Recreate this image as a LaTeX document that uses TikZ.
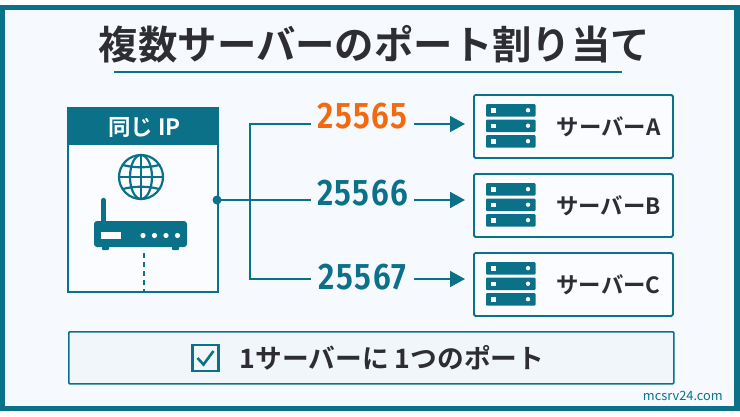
\documentclass[tikz,border=0pt]{standalone}
\usepackage{fontspec}
\usetikzlibrary{arrows.meta}
\setmainfont{Noto Sans CJK JP}[BoldFont={Noto Sans CJK JP Bold}]
\newfontfamily\jpbold{Noto Sans CJK JP Bold}[AutoFakeBold=1.6]
\newfontfamily\jpheavy{Noto Sans CJK JP Bold}[AutoFakeBold=2.6]
\newfontfamily\numfont{Fira Sans}[UprightFont=* SemiBold,FakeStretch=0.86,LetterSpace=4]
\definecolor{teal1}{HTML}{0B7189}
\definecolor{ink}{HTML}{2D2D33}
\definecolor{orng}{HTML}{F26A10}
\definecolor{bgc}{HTML}{F6F9FE}
\definecolor{boxc}{HTML}{FBFCFF}
\definecolor{notec}{HTML}{F1F6FB}
\tikzset{
  line/.style={draw=teal1,line width=1.9pt},
  servbox/.style={draw=teal1,line width=1.8pt,fill=boxc,rounded corners=1.5pt,minimum width=199pt,minimum height=63pt,inner sep=0pt},
  servlabel/.style={inner sep=0pt,text=ink,font=\jpbold\fontsize{22.4}{22.4}\selectfont},
  portnum/.style={inner sep=0pt,minimum width=103pt,minimum height=40pt,font=\numfont\fontsize{37}{37}\selectfont},
  arrowto/.style={line,shorten >=8pt,-{Triangle[length=15pt,width=16pt]}},
  rack/.style={fill=teal1,rounded corners=1pt},
}
\newcommand{\servericon}[1]{%
  \begin{scope}[shift={(486,#1)}]
    \foreach \yy in {0,15.5,31}{
      \fill[rack] (0,\yy) rectangle (49.5,\yy+12.5);
      \fill[white] (5,\yy+4) rectangle (10,\yy+8.5);
      \fill[white] (42,\yy+6.2) circle (2.2);
    }
  \end{scope}}
\begin{document}
\begin{tikzpicture}[x=1pt,y=-1pt]
\useasboundingbox (0,0) rectangle (740,416);
\fill[white] (0,0) rectangle (740,416);
\draw[draw=teal1,line width=5.5pt,fill=bgc] (2.5,7.7) rectangle (737,408.5);

% title
\node[inner sep=0pt,text=ink,font=\jpheavy\fontsize{39.4}{39.4}\selectfont] (title) at (374.5,44) {複数サーバーのポート割り当て};
\coordinate (ulL) at (114,72);
\coordinate (ulR) at (622,72);
\draw[line] (ulL) -- (ulR);

% left panel
\node[draw=teal1,line width=1.7pt,fill=boxc,minimum width=150pt,minimum height=184pt,inner sep=0pt,anchor=north west] (panel) at (67,107) {};
\fill[teal1] (panel.north west) rectangle (217,145);
\node[inner sep=0pt,text=white,font=\jpbold\fontsize{22.5}{22.5}\selectfont] (iplabel) at (144.5,127) {同じ IP};

% globe
\begin{scope}[shift={(141,177)},teal1,line width=2.2pt]
  \draw (0,0) circle (22);
  \draw (0,0) ellipse (11 and 22);
  \draw (0,-22) -- (0,22);
  \draw (-22,0) -- (22,0);
  \draw (-18,-12) .. controls (-8,-9) and (8,-9) .. (18,-12);
  \draw (-18,12) .. controls (-8,9) and (8,9) .. (18,12);
\end{scope}

% router
\fill[teal1,rounded corners=3pt] (94,221) rectangle (187,247);
\fill[teal1,rounded corners=1pt] (102,245) rectangle (109,250);
\fill[teal1,rounded corners=1pt] (172,245) rectangle (179,250);
\draw[teal1,line width=4.4pt,line cap=round] (103.5,222) -- (103.5,200);
\fill[white] (101,232) rectangle (121,239);
\foreach \xx in {143,154.5,166,177.5}{\fill[white] (\xx,235.5) circle (2.6);}
\coordinate (dashT) at (144,253);
\coordinate (dashB) at (144,291);
\draw[teal1,line width=2.1pt,dash pattern=on 5pt off 4pt] (dashT) -- (dashB);

% connectors and ports
\coordinate (hub) at (217,200);
\node[portnum,text=orng] (p1) at (362.5,124) {\raisebox{-4pt}[0pt][0pt]{25565}};
\node[portnum,text=teal1] (p2) at (362.5,200) {\raisebox{-5pt}[0pt][0pt]{25566}};
\node[portnum,text=teal1] (p3) at (362.5,279) {\raisebox{-10.5pt}[0pt][0pt]{25567}};
\coordinate (busT) at (250,124);
\coordinate (busB) at (250,279);
\draw[line] (p1.west) -- (busT) -- (busB) -- (p3.west);
\draw[line] (hub) -- (p2.west);
\fill[teal1] (hub) circle (4.5);

% servers
\node[servbox,anchor=north west] (sa) at (473,94) {};
\node[servbox,anchor=north west] (sb) at (473,173) {};
\node[servbox,anchor=north west] (sc) at (473,252) {};
\draw[arrowto] (p1.east) -- (sa.west |- p1.east);
\draw[arrowto] (p2.east) -- (sb.west |- p2.east);
\draw[arrowto] (p3.east) -- (sc.west |- p3.east);
\servericon{104}
\servericon{183}
\servericon{262}
\node[servlabel] (la) at (608.5,127) {サーバーA};
\node[servlabel] (lb) at (608.5,206) {サーバーB};
\node[servlabel] (lc) at (608.5,285) {サーバーC};

% note
\node[draw=teal1,line width=1.6pt,fill=notec,rounded corners=1pt,minimum width=605pt,minimum height=52pt,inner sep=0pt,anchor=north west] (note) at (68,331) {};
\node[draw=teal1,line width=2.2pt,fill=notec,minimum size=26pt,inner sep=0pt] (check) at (205.5,358) {};
\draw[teal1,line width=2.6pt] (197.5,358) -- (203.5,364.5) -- (213.5,351);
\node[inner sep=0pt,text=ink,font=\jpbold\fontsize{26.7}{26.7}\selectfont] (notetext) at (392,358) {1サーバーに 1つのポート};
\node[inner sep=0pt,text=teal1,font=\fontsize{12.8}{12.8}\selectfont,anchor=east] (site) at (723,396) {mcsrv24.com};
\end{tikzpicture}
\end{document}
